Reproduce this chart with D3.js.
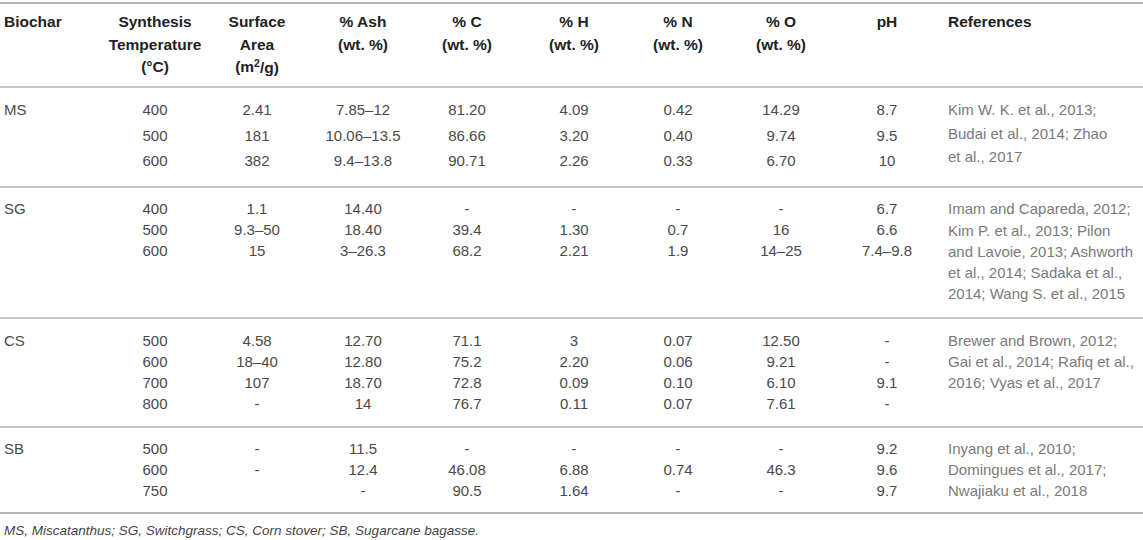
<!DOCTYPE html>
<html>
<head>
<meta charset="utf-8">
<script src="https://cdn.jsdelivr.net/npm/d3@7/dist/d3.min.js"></script>
<style>
  html, body { margin: 0; padding: 0; background: #fff; }
  svg { display: block; }
</style>
</head>
<body>
<svg id="chart" width="1143" height="540"></svg>
<script>
// ---------- DATA ----------
const columnKeys = ["biochar", "temp", "area", "ash", "c", "h", "n", "o", "ph", "refs"];
const headerLines = [
  ["Biochar"],
  ["Synthesis", "Temperature", "(°C)"],
  ["Surface", "Area", "(m²/g)"],
  ["% Ash", "(wt. %)"],
  ["% C", "(wt. %)"],
  ["% H", "(wt. %)"],
  ["% N", "(wt. %)"],
  ["% O", "(wt. %)"],
  ["pH"],
  ["References"]
];
const biochars = ["MS", "SG", "CS", "SB"];
const groupSizes = [3, 3, 4, 3];
const temperatures = ["400", "500", "600", "400", "500", "600", "500", "600", "700", "800", "500", "600", "750"];
const surfaceArea = ["2.41", "181", "382", "1.1", "9.3–50", "15", "4.58", "18–40", "107", "-", "-", "-", ""];
const ash = ["7.85–12", "10.06–13.5", "9.4–13.8", "14.40", "18.40", "3–26.3", "12.70", "12.80", "18.70", "14", "11.5", "12.4", "-"];
const carbon = ["81.20", "86.66", "90.71", "-", "39.4", "68.2", "71.1", "75.2", "72.8", "76.7", "-", "46.08", "90.5"];
const hydrogen = ["4.09", "3.20", "2.26", "-", "1.30", "2.21", "3", "2.20", "0.09", "0.11", "-", "6.88", "1.64"];
const nitrogen = ["0.42", "0.40", "0.33", "-", "0.7", "1.9", "0.07", "0.06", "0.10", "0.07", "-", "0.74", "-"];
const oxygen = ["14.29", "9.74", "6.70", "-", "16", "14–25", "12.50", "9.21", "6.10", "7.61", "-", "46.3", "-"];
const phValues = ["8.7", "9.5", "10", "6.7", "6.6", "7.4–9.8", "-", "-", "9.1", "-", "9.2", "9.6", "9.7"];
const references = [
  ["Kim W. K. et al., 2013;", "Budai et al., 2014; Zhao", "et al., 2017"],
  ["Imam and Capareda, 2012;", "Kim P. et al., 2013; Pilon", "and Lavoie, 2013; Ashworth", "et al., 2014; Sadaka et al.,", "2014; Wang S. et al., 2015"],
  ["Brewer and Brown, 2012;", "Gai et al., 2014; Rafiq et al.,", "2016; Vyas et al., 2017"],
  ["Inyang et al., 2010;", "Domingues et al., 2017;", "Nwajiaku et al., 2018"]
];
const footnote = "MS, Miscatanthus; SG, Switchgrass; CS, Corn stover; SB, Sugarcane bagasse.";

// ---------- LAYOUT ----------
const W = 1143;
const svg = d3.select("#chart");
const font = "'Liberation Sans', Arial, Helvetica, sans-serif";

const x = d3.scaleOrdinal()
  .domain(columnKeys)
  .range([4, 155, 257, 363, 467, 574, 678, 781, 887, 948]);
const anchorOf = k => (k === "biochar" || k === "refs") ? "start" : "middle";

const yHeader = d3.scaleLinear().domain([0, 1]).range([22, 44.5]);

const groupStart = [110, 209, 341, 449];
const dataPitch = [25.5, 21, 21, 21];
const refPitch = [23.5, 21.3, 21, 21];
const separators = [87, 187, 318, 427];
const topRule = 3, bottomRule = 513, footY = 530;

const rules = [topRule, ...separators, bottomRule];
svg.selectAll("line.rule").data(rules).join("line")
  .attr("class", "rule")
  .attr("x1", 0).attr("x2", W)
  .attr("y1", d => d).attr("y2", d => d)
  .attr("stroke", "#b4b4b4")
  .attr("stroke-width", (d, i) => (i === 0 || i === rules.length - 1) ? 2 : 1.6);

// header
const hdr = svg.append("g").attr("font-family", font).attr("font-weight", "bold")
  .attr("font-size", 15.5).attr("fill", "#222");
columnKeys.forEach((k, ci) => {
  headerLines[ci].forEach((line, li) => {
    const t = hdr.append("text")
      .attr("x", x(k)).attr("y", yHeader(li))
      .attr("dy", "0.35em")
      .attr("text-anchor", anchorOf(k));
    if (line === "(m²/g)") {
      t.append("tspan").text("(m");
      t.append("tspan").attr("font-size", 10.5).attr("dy", "-0.5em").text("2");
      t.append("tspan").attr("dy", "0.35em").text("/g)");
    } else {
      t.text(line);
    }
  });
});

// rows
const rowCols = [
  ["temp", temperatures], ["area", surfaceArea], ["ash", ash], ["c", carbon],
  ["h", hydrogen], ["n", nitrogen], ["o", oxygen], ["ph", phValues]
];
const rows = [];
let idx = 0;
groupSizes.forEach((n, g) => {
  for (let r = 0; r < n; r++) rows.push({ g, r, i: idx++ });
});
const rowY = d => groupStart[d.g] + d.r * dataPitch[d.g];

const body = svg.append("g").attr("font-family", font).attr("font-size", 15).attr("fill", "#4a4a4a");

body.selectAll("text.bio").data(biochars).join("text")
  .attr("class", "bio")
  .attr("x", x("biochar"))
  .attr("y", (d, g) => groupStart[g])
  .attr("dy", "0.35em")
  .text(d => d);

rowCols.forEach(([k, arr]) => {
  body.selectAll("text.c-" + k).data(rows).join("text")
    .attr("class", "c-" + k)
    .attr("x", x(k))
    .attr("y", rowY)
    .attr("dy", "0.35em")
    .attr("text-anchor", "middle")
    .text(d => arr[d.i]);
});

// references
const refG = svg.append("g").attr("font-family", font).attr("font-size", 15).attr("fill", "#7a7a7a");
references.forEach((lines, g) => {
  refG.selectAll("text.r" + g).data(lines).join("text")
    .attr("class", "r" + g)
    .attr("x", x("refs"))
    .attr("y", (d, li) => groupStart[g] + li * refPitch[g])
    .attr("dy", "0.35em")
    .text(d => d);
});

// footnote
svg.append("text")
  .attr("x", 4).attr("y", footY).attr("dy", "0.35em")
  .attr("font-family", font).attr("font-size", 13.5)
  .attr("font-style", "italic").attr("fill", "#444")
  .text(footnote);
</script>
</body>
</html>
